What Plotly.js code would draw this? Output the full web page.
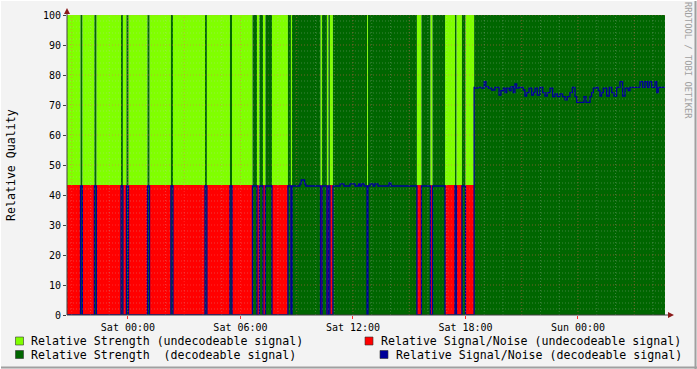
<!DOCTYPE html>
<html>
<head>
<meta charset="utf-8">
<script src="https://cdn.plot.ly/plotly-3.0.1.min.js"></script>
<style>html,body{margin:0;padding:0;background:#F3F3F3;}#chart{width:697px;height:369px;}</style>
</head>
<body>
<div id="chart"></div>
<script>
// ---- data (hours relative to Sat 00:00) ----
const tMin = -3.25, tMax = 28.64;
// decodeable periods (start/end hours); everything else is undecodeable
const decStart = [-2.53,-1.79,-0.37,-0.08,1.04,2.29,4.11,5.44,6.64,7.01,7.33,8.53,8.75,10.35,10.69,10.93,12.80,15.65,16.24,17.44,17.81,18.46];
const decEnd   = [-2.43,-1.68,-0.27, 0.03,1.15,2.40,4.21,5.55,6.88,7.20,7.68,8.69,10.27,10.61,10.77,12.75,15.41,16.13,16.91,17.52,18.00,28.64];
// relative signal/noise while undecodeable
const undecSN = 43.3;
// relative signal/noise (decodeable) change points
const snTime = [-3.25,9.17,9.24,9.42,9.48,11.31,11.52,11.84,12.11,12.30,12.37,12.46,12.59,12.91,13.07,13.17,13.33,13.92,14.03,
  18.46,18.51,18.68,18.86,19.00,19.09,19.22,19.40,19.57,19.79,19.89,20.02,20.11,20.20,20.34,20.43,20.55,20.64,20.73,20.85,
  21.08,21.17,21.26,21.39,21.53,21.62,21.71,21.83,21.97,22.12,22.24,22.36,22.51,22.65,22.77,22.90,23.04,23.18,23.31,23.43,
  23.57,23.70,23.84,23.93,24.32,24.43,24.64,24.73,24.82,24.96,25.08,25.17,25.26,25.35,25.53,25.67,25.80,25.92,26.06,26.24,
  26.38,26.51,26.68,26.77,27.31,27.45,27.57,27.70,27.80,27.93,28.11,28.20,28.28];
const snValue = [43,43.7,45,43.7,43,43.7,43,43.7,43,43.7,43,43.7,43,43.7,43,43.7,43,44,43,
  75.9,75.6,75.9,75.6,77.8,76.1,75.6,75.0,75.9,73.3,74.8,75.6,74.1,75.6,74.8,76.1,74.1,77.0,75.6,75.9,
  75.0,73.0,74.1,75.6,73.3,74.1,75.6,73.3,75.9,74.1,73.0,74.1,75.6,72.8,73.7,72.8,73.7,72.8,71.7,72.8,
  74.1,75.9,72.8,70.9,72.8,70.9,72.8,74.1,75.6,75.9,74.8,73.0,74.1,75.6,73.0,75.9,74.1,73.0,75.9,77.8,
  73.0,75.6,74.8,75.9,77.8,75.9,77.8,75.9,77.8,75.9,77.8,74.1,75.9];
const tickHours = [0,6,12,18,24];
const tickLabels = ['Sat 00:00','Sat 06:00','Sat 12:00','Sat 18:00','Sun 00:00'];
const yTicks = [0,10,20,30,40,50,60,70,80,90,100];
const legendLabels = ['Relative Strength (undecodeable signal)','Relative Signal/Noise (undecodeable signal)',
  'Relative Strength  (decodeable signal)','Relative Signal/Noise (decodeable signal)'];
const colors = {light:'#80FF00', dark:'#006600', red:'#FF0000', blue:'#000099'};

// ---- helpers ----
function H(h){ const ms = Date.UTC(2000,0,1) + Math.round(h*3600000); return new Date(ms).toISOString().slice(0,19).replace('T',' '); }
function isDec(t){ for(let i=0;i<decStart.length;i++){ if(t>=decStart[i] && t<decEnd[i]) return true; } return false; }
function snAt(t){ let v=snValue[0]; for(let i=0;i<snTime.length;i++){ if(snTime[i]<=t) v=snValue[i]; } return v; }

let bps = Array.from(new Set([tMin,tMax].concat(decStart,decEnd,snTime))).filter(t=>t>=tMin&&t<=tMax).sort((a,b)=>a-b);
const X=[], yLight=[], yDark=[], yRed=[], yBlue=[];
bps.forEach((t,i)=>{
  const tt = (i===bps.length-1) ? bps[i-1] : t;
  const d = isDec(tt);
  X.push(H(t));
  yLight.push(d?0:100);
  yDark.push(d?100:0);
  yRed.push(d?0:undecSN);
  yBlue.push(d?snAt(tt):0);
});

function area(y,c){ return {x:X,y:y,type:'scatter',mode:'lines',line:{shape:'hv',width:0,color:c},fill:'tozeroy',fillcolor:c,hoverinfo:'skip',showlegend:false}; }
const traces = [
  area(yLight,colors.light),
  area(yDark,colors.dark),
  area(yRed,colors.red),
  {x:X,y:yBlue,type:'scatter',mode:'lines',line:{shape:'hv',width:1.3,color:colors.blue},hoverinfo:'skip',showlegend:false}
];

// pixel -> paper helpers (plot area 67..665 x 15..315)
const PL=67, PR=665, PT=15, PB=315;
const px = v => (v-PL)/(PR-PL);
const py = v => (PB-v)/(PB-PT);

const shapes = [];
const minorCol = 'rgba(200,200,200,0.30)', majorCol = 'rgba(255,90,90,0.45)';
// grid (drawn above data as in rrdtool)
for(let h=Math.ceil(tMin); h<=Math.floor(tMax); h++){
  const major = (((h%3)+3)%3)===0;
  shapes.push({type:'line',xref:'x',yref:'paper',x0:H(h),x1:H(h),y0:0,y1:1,layer:'above',
    line:{color: major?majorCol:minorCol,width:1,dash:'1px,2px'}});
}
for(let v=2; v<=100; v+=2){
  const major = v%10===0;
  shapes.push({type:'line',xref:'paper',yref:'y',x0:0,x1:1,y0:v,y1:v,layer:'above',
    line:{color: major?majorCol:minorCol,width:1,dash:'1px,2px'}});
}
// axis extensions and arrows
shapes.push({type:'line',xref:'paper',yref:'paper',x0:px(67),x1:px(67),y0:py(315),y1:py(11),line:{color:'#404040',width:1},layer:'above'});
shapes.push({type:'line',xref:'paper',yref:'paper',x0:px(67),x1:px(669),y0:py(315),y1:py(315),line:{color:'#404040',width:1},layer:'above'});
shapes.push({type:'path',xref:'paper',yref:'paper',layer:'above',fillcolor:'#8B1A1A',line:{width:0},
  path:`M ${px(64)} ${py(14)} L ${px(70)} ${py(14)} L ${px(67)} ${py(8)} Z`});
shapes.push({type:'path',xref:'paper',yref:'paper',layer:'above',fillcolor:'#8B1A1A',line:{width:0},
  path:`M ${px(668)} ${py(312)} L ${px(668)} ${py(318)} L ${px(674)} ${py(315)} Z`});
// frame
shapes.push({type:'line',xref:'paper',yref:'paper',x0:px(695.5),x1:px(695.5),y0:py(0),y1:py(369),line:{color:'#A0A0A0',width:2}});
shapes.push({type:'line',xref:'paper',yref:'paper',x0:px(0),x1:px(697),y0:py(367.5),y1:py(367.5),line:{color:'#A0A0A0',width:2}});
shapes.push({type:'line',xref:'paper',yref:'paper',x0:px(0.5),x1:px(0.5),y0:py(0),y1:py(369),line:{color:'#FFFFFF',width:1}});
shapes.push({type:'line',xref:'paper',yref:'paper',x0:px(0),x1:px(697),y0:py(0.5),y1:py(0.5),line:{color:'#FFFFFF',width:1}});

// legend
const mono = 'DejaVu Sans Mono, monospace';
const legItems = [
  {sx:15.5, sy:337, tx:29, ty:341, c:colors.light, t:legendLabels[0]},
  {sx:365, sy:337, tx:379, ty:341, c:colors.red, t:legendLabels[1]},
  {sx:15.5, sy:350.5, tx:29, ty:354.5, c:colors.dark, t:legendLabels[2]},
  {sx:380, sy:350.5, tx:394, ty:354.5, c:colors.blue, t:legendLabels[3]}
];
const annotations = [];
legItems.forEach(it=>{
  shapes.push({type:'rect',xref:'paper',yref:'paper',x0:px(it.sx),x1:px(it.sx+8),y0:py(it.sy),y1:py(it.sy+8),
    fillcolor:it.c,line:{color:'#333333',width:0.6}});
  annotations.push({xref:'paper',yref:'paper',x:px(it.tx),y:py(it.ty),xanchor:'left',yanchor:'middle',showarrow:false,
    text:it.t,font:{family:mono,size:11.6,color:'#000'}});
});
annotations.push({xref:'paper',yref:'paper',x:px(11),y:0.5,xanchor:'center',yanchor:'middle',showarrow:false,textangle:-90,
  text:'Relative Quality',font:{family:mono,size:11.6,color:'#000'}});
annotations.push({xref:'paper',yref:'paper',x:px(688),y:py(60),xanchor:'center',yanchor:'middle',showarrow:false,textangle:90,
  text:'RRDTOOL / TOBI OETIKER',font:{family:mono,size:8.8,color:'#A0A0A0'}});

const layout = {
  width:697, height:369,
  margin:{l:67,r:32,t:15,b:54,pad:0},
  paper_bgcolor:'#F3F3F3', plot_bgcolor:'#F3F3F3',
  showlegend:false,
  xaxis:{type:'date', range:[H(tMin),H(tMax)], tickmode:'array', tickvals:tickHours.map(H), ticktext:tickLabels,
    showgrid:false, zeroline:false, showline:false, ticks:'outside', ticklen:3, tickcolor:'#FF3030',
    tickfont:{family:mono,size:10,color:'#000'}, fixedrange:true},
  yaxis:{range:[0,100], tickmode:'array', tickvals:yTicks, ticktext:yTicks.map(String),
    showgrid:false, zeroline:false, showline:false, ticks:'outside', ticklen:3, tickcolor:'#404040',
    tickfont:{family:mono,size:10,color:'#000'}, fixedrange:true},
  shapes:shapes, annotations:annotations
};
Plotly.newPlot('chart', traces, layout, {displayModeBar:false, staticPlot:true});
</script>
</body>
</html>
